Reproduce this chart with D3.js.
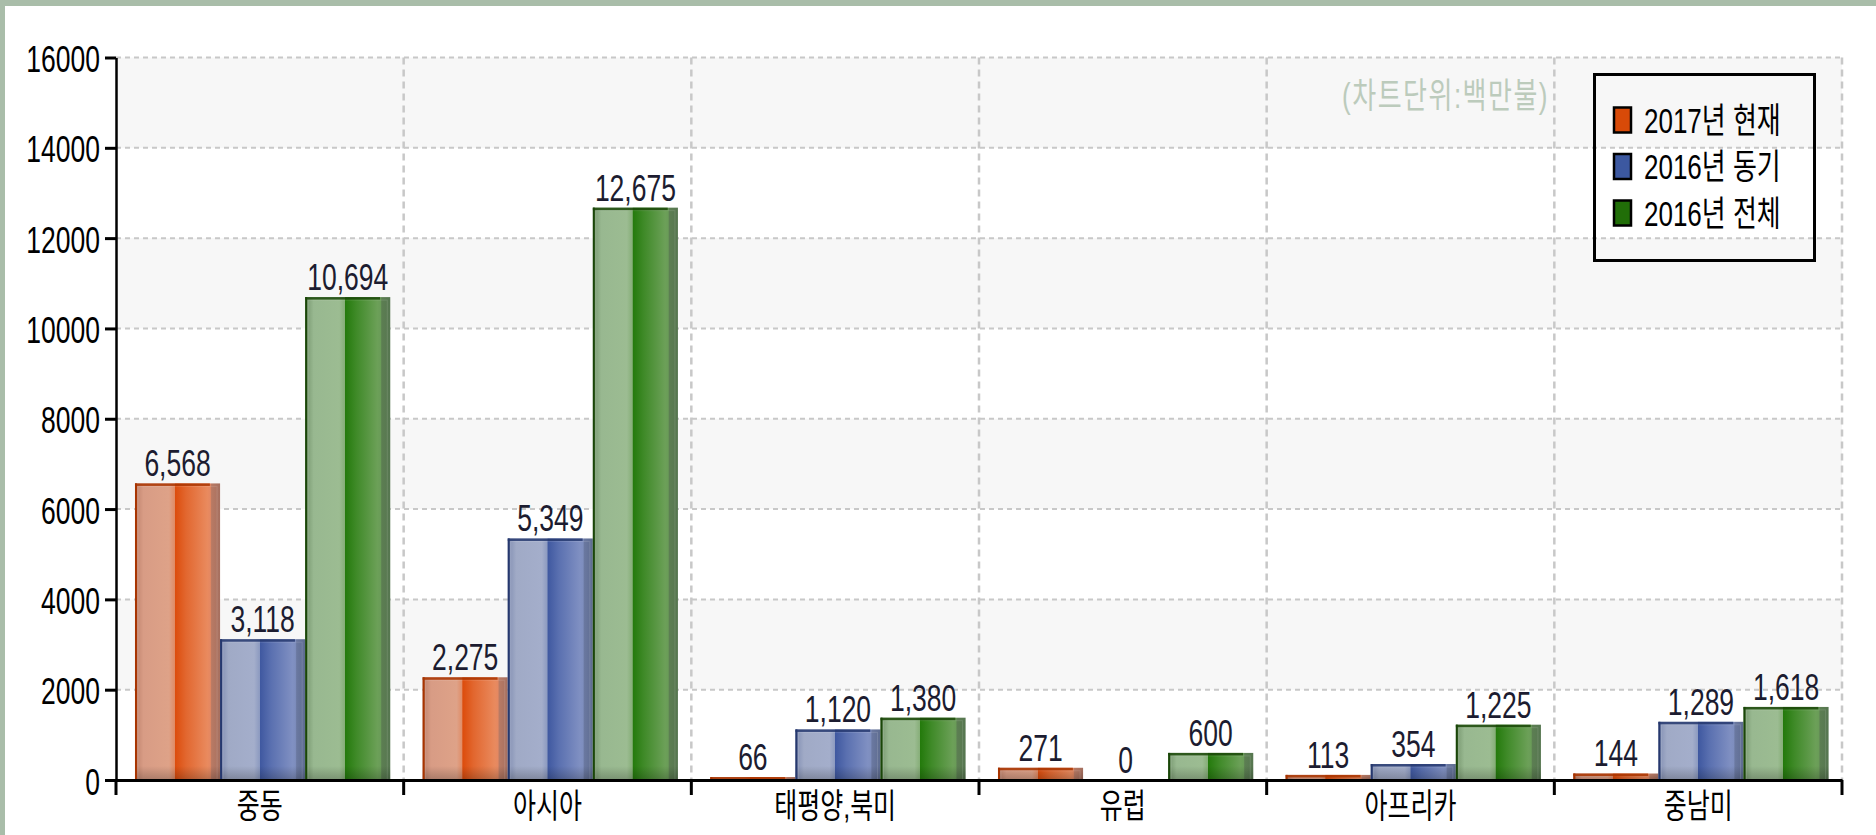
<!DOCTYPE html>
<html>
<head>
<meta charset="utf-8">
<script src="https://cdn.jsdelivr.net/npm/d3@7"></script>
<style>
  html, body { margin: 0; padding: 0; background: #ffffff; }
  svg { display: block; }
  text { font-family: "Liberation Sans", "Noto Sans CJK KR", sans-serif; }
</style>
</head>
<body>
<svg id="chart" width="1876" height="835"></svg>
<script>
// ---------- data ----------
const categories = ["중동", "아시아", "태평양,북미", "유럽", "아프리카", "중남미"];
const seriesNames = ["2017년 현재", "2016년 동기", "2016년 전체"];
const values2017Now = [6568, 2275, 66, 271, 113, 144];
const values2016Same = [3118, 5349, 1120, 0, 354, 1289];
const values2016Total = [10694, 12675, 1380, 600, 1225, 1618];
const yTickValues = [0, 2000, 4000, 6000, 8000, 10000, 12000, 14000, 16000];
const unitLabel = "(차트단위:백만불)";

const seriesValues = [values2017Now, values2016Same, values2016Total];

// ---------- styles ----------
const W = 1876, H = 835;
const plot = { left: 116, right: 1842, top: 57.5, bottom: 780 };
const SY = 1.37;           // vertical stretch of glyphs
const FS = 26.5;           // digit font size
const KFS = 25;            // korean font size

const palettes = [
  { id: "gOrange", outline: "#a83400", swatch: "#d84a08",
    stops: [[0, "#a8705c"], [0.03, "#c68a74"], [0.1, "#d89c85"], [0.40, "#dea288"], [0.465, "#e08c66"],
            [0.47, "#dc4c0c"], [0.6, "#e2672f"], [0.85, "#e98a5e"], [0.885, "#e48862"], [0.9, "#b87a64"], [1, "#a67060"]] },
  { id: "gBlue", outline: "#26386e", swatch: "#3c58a0",
    stops: [[0, "#727ea0"], [0.03, "#8a96b8"], [0.1, "#a0aac6"], [0.40, "#a4aecb"], [0.465, "#8c9ac0"],
            [0.47, "#3f58a0"], [0.6, "#5a70b0"], [0.85, "#8090c2"], [0.885, "#7e8ebe"], [0.9, "#6a78a0"], [1, "#5e6c90"]] },
  { id: "gGreen", outline: "#1a4608", swatch: "#216e08",
    stops: [[0, "#688860"], [0.03, "#80a078"], [0.1, "#98b890"], [0.40, "#9cbc92"], [0.465, "#86ae78"],
            [0.47, "#247a0c"], [0.6, "#3f8a28"], [0.85, "#6ca058"], [0.885, "#6a9c58"], [0.9, "#5c7e52"], [1, "#567650"]] }
];

const svg = d3.select("#chart");
const defs = svg.append("defs");
palettes.forEach(p => {
  const g = defs.append("linearGradient").attr("id", p.id)
    .attr("x1", "0").attr("y1", "0").attr("x2", "1").attr("y2", "0");
  p.stops.forEach(s => g.append("stop").attr("offset", s[0]).attr("stop-color", s[1]));
});
const shade = defs.append("linearGradient").attr("id", "bottomShade")
  .attr("x1", "0").attr("y1", "0").attr("x2", "0").attr("y2", "1");
shade.append("stop").attr("offset", 0).attr("stop-color", "#000").attr("stop-opacity", 0);
shade.append("stop").attr("offset", 1).attr("stop-color", "#000").attr("stop-opacity", 0.22);

// background + frame
svg.append("rect").attr("width", W).attr("height", H).attr("fill", "#ffffff");
svg.append("rect").attr("x", 0).attr("y", 0).attr("width", W).attr("height", 6).attr("fill", "#a9bda9");
svg.append("rect").attr("x", 0).attr("y", 0).attr("width", 5).attr("height", H).attr("fill", "#a9bda9");

// ---------- scales ----------
const y = d3.scaleLinear().domain([0, 16000]).range([plot.bottom, plot.top]);
const x0 = d3.scaleBand().domain(categories).range([plot.left, plot.right]).padding(0);
const bw = x0.bandwidth();
const x1 = d3.scaleBand().domain(seriesNames)
  .range([bw * 0.066, bw * 0.066 + 3 * bw * 0.2958]).padding(0);

// alternating bands
for (let i = 0; i < yTickValues.length - 1; i++) {
  if (i % 2 === 1) {
    svg.append("rect")
      .attr("x", plot.left).attr("width", plot.right - plot.left)
      .attr("y", y(yTickValues[i + 1])).attr("height", y(yTickValues[i]) - y(yTickValues[i + 1]))
      .attr("fill", "#f7f7f7");
  }
}

// grid lines
const grid = svg.append("g");
yTickValues.filter(v => v > 0).forEach(v => {
  grid.append("line")
    .attr("x1", plot.left).attr("x2", plot.right)
    .attr("y1", y(v)).attr("y2", y(v))
    .attr("stroke", "#c8c8c8").attr("stroke-width", 2).attr("stroke-dasharray", "5,4");
});
categories.forEach(c => {
  const xx = x0(c) + bw;
  grid.append("line")
    .attr("x1", xx).attr("x2", xx)
    .attr("y1", plot.top).attr("y2", plot.bottom)
    .attr("stroke", "#c8c8c8").attr("stroke-width", 2.5).attr("stroke-dasharray", "7,5");
});

// unit label
svg.append("g").attr("transform", `translate(1549,95) scale(1,${SY})`)
  .append("text").attr("text-anchor", "end").attr("y", 0.36 * 26)
  .attr("font-size", 26).attr("letter-spacing", 1.5).attr("fill", "#bccbbc")
  .text(unitLabel);

// ---------- bars ----------
const bars = svg.append("g");
categories.forEach((c, ci) => {
  seriesNames.forEach((s, si) => {
    const v = seriesValues[si][ci];
    const p = palettes[si];
    const bx = x0(c) + x1(s);
    const w = x1.bandwidth();
    const top = y(v);
    const h = y(0) - top;
    if (h > 0) {
      const g = bars.append("g");
      g.append("rect").attr("x", bx).attr("y", top).attr("width", w).attr("height", h)
        .attr("fill", `url(#${p.id})`);
      const sh = Math.min(14, h);
      g.append("rect").attr("x", bx).attr("y", y(0) - sh).attr("width", w).attr("height", sh)
        .attr("fill", "url(#bottomShade)");
      if (h > 8) {
        g.append("rect").attr("x", bx + 3).attr("y", top + 3).attr("width", w - 6).attr("height", h - 3)
          .attr("fill", "none").attr("stroke", "#ffffff").attr("stroke-opacity", 0.12).attr("stroke-width", 1);
      }
      g.append("rect").attr("x", bx).attr("y", top).attr("width", 2).attr("height", h).attr("fill", p.outline);
      g.append("rect").attr("x", bx).attr("y", top).attr("width", w * 0.88).attr("height", Math.min(2.5, h))
        .attr("fill", p.outline).attr("fill-opacity", 0.85);
    }
    // value label
    svg.append("g").attr("transform", `translate(${bx + w / 2},${top - 7}) scale(1,${SY})`)
      .append("text").attr("text-anchor", "middle")
      .attr("font-size", FS).attr("fill", "#1c1c30")
      .text(d3.format(",")(v));
  });
});

// ---------- axes ----------
const yAxis = d3.axisLeft(y).tickValues(yTickValues).tickSize(11).tickSizeOuter(0).tickFormat(d => String(d));
const gy = svg.append("g").attr("transform", `translate(${plot.left},0)`).call(yAxis);
gy.select(".domain").attr("stroke", "#000").attr("stroke-width", 2.5);
gy.selectAll(".tick line").attr("stroke", "#000").attr("stroke-width", 3);
gy.selectAll(".tick text")
  .attr("x", null).attr("dy", null)
  .attr("y", 0.358 * FS)
  .attr("transform", `translate(-16,1) scale(1,${SY})`)
  .attr("text-anchor", "end")
  .attr("font-size", FS).attr("font-family", "Liberation Sans").attr("fill", "#000");

const xAxis = d3.axisBottom(x0).tickSize(0).tickSizeOuter(0).tickPadding(0);
const gx = svg.append("g").attr("transform", `translate(0,${plot.bottom})`).call(xAxis);
gx.select(".domain").attr("stroke", "#000").attr("stroke-width", 3);
gx.selectAll(".tick text")
  .attr("y", 0.36 * KFS).attr("dy", null)
  .attr("transform", `translate(0,26) scale(1,1.36)`)
  .attr("font-size", KFS).attr("font-family", "Liberation Sans, Noto Sans CJK KR").attr("fill", "#000");
// boundary ticks
const boundaries = [plot.left].concat(categories.map(c => x0(c) + bw));
boundaries.forEach(bxx => {
  gx.append("line").attr("x1", bxx).attr("x2", bxx).attr("y1", 0).attr("y2", 15)
    .attr("stroke", "#000").attr("stroke-width", 3);
});

// ---------- legend ----------
const lg = svg.append("g");
lg.append("rect").attr("x", 1594.5).attr("y", 74.5).attr("width", 220).attr("height", 186)
  .attr("fill", "none").attr("stroke", "#000").attr("stroke-width", 3);
seriesNames.forEach((s, i) => {
  const cy = 120 + i * 46.5;
  lg.append("rect").attr("x", 1614).attr("y", cy - 12.5).attr("width", 17).attr("height", 25)
    .attr("fill", palettes[i].swatch).attr("stroke", "#000").attr("stroke-width", 2.5);
  lg.append("g").attr("transform", `translate(1644,${cy}) scale(1,1.36)`)
    .append("text").attr("y", 0.36 * 26).attr("font-size", 26).attr("fill", "#000")
    .text(s);
});
</script>
</body>
</html>
